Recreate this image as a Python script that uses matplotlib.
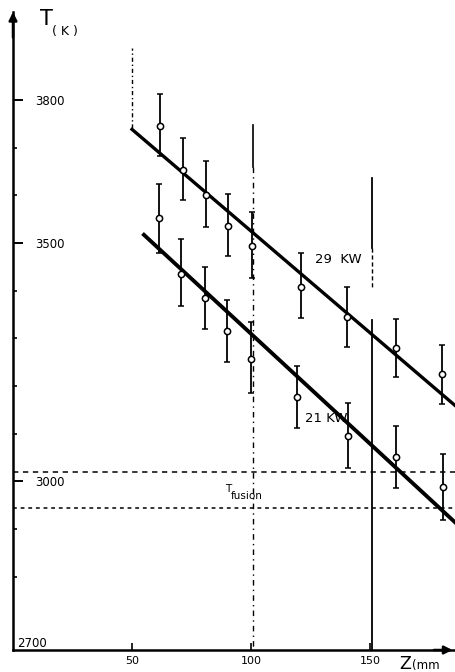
import matplotlib
matplotlib.use("Agg")
import matplotlib.pyplot as plt
import numpy as np

# ---- data ----
z_29 = [61.9, 71.4, 81.2, 90.5, 100.3, 120.9, 140.2, 160.8, 180.3]
T_29 = [3746, 3653, 3600, 3535, 3494, 3408, 3344, 3280, 3225]
T_29_hi = [3812, 3719, 3672, 3602, 3565, 3478, 3408, 3341, 3286]
T_29_lo = [3682, 3589, 3534, 3473, 3426, 3342, 3281, 3218, 3162]

z_21 = [61.2, 70.7, 80.5, 90.1, 99.9, 119.2, 140.6, 160.9, 180.5]
T_21 = [3553, 3434, 3385, 3316, 3256, 3178, 3095, 3052, 2989]
T_21_hi = [3624, 3508, 3449, 3380, 3334, 3241, 3165, 3116, 3058]
T_21_lo = [3478, 3368, 3320, 3251, 3185, 3113, 3028, 2986, 2919]

fit_z_29 = [50, 186]
fit_T_29 = [3738, 3158]
fit_z_21 = [55, 186]
fit_T_21 = [3517, 2913]

T_upper_ref = 3019
T_fusion = 2945

x_ticks = [50, 100, 150]
y_major = [3000, 3500, 3800]
y_minor = [2800, 2900, 3100, 3200, 3300, 3400, 3600, 3700]

# ---- figure ----
fig = plt.figure(figsize=(4.56, 6.72), dpi=100)
ax = fig.add_axes([13/456, 22/672, 443/456, 638/672])
ax.set_xlim(0, 186.1)
ax.set_ylim(2646.8, 3984)

for s in ("top", "right"):
    ax.spines[s].set_visible(False)
ax.spines["left"].set_linewidth(1.8)
ax.spines["bottom"].set_linewidth(1.8)

# axis arrows
ax.annotate("", xy=(0, 1.0), xytext=(0, 0.96), xycoords="axes fraction",
            arrowprops=dict(arrowstyle="-|>", color="black", lw=1.8,
                            mutation_scale=12, shrinkA=0, shrinkB=0))
ax.annotate("", xy=(0.992, 0), xytext=(0.95, 0), xycoords="axes fraction",
            arrowprops=dict(arrowstyle="-|>", color="black", lw=1.8,
                            mutation_scale=12, shrinkA=0, shrinkB=0))

# ticks
ax.set_yticks(y_major)
ax.set_yticklabels([str(v) for v in y_major])
ax.set_yticks(y_minor, minor=True)
ax.tick_params(axis="y", which="major", direction="in", length=7, width=1.4,
               pad=-16, labelsize=8.5)
ax.tick_params(axis="y", which="minor", direction="in", length=3, width=1.2)
for lab in ax.get_yticklabels():
    lab.set_horizontalalignment("left")
ax.set_xticks(x_ticks)
ax.set_xticklabels([str(v) for v in x_ticks])
ax.tick_params(axis="x", direction="in", length=5, width=1.2, pad=4, labelsize=8)
ax.text(1.7, 2661, "2700", fontsize=8.5, ha="left", va="center")

# vertical reference lines
ax.plot([50, 50], [3741, 3908], color="black", lw=1.0, ls=(0, (3, 2, 1, 2)))
ax.plot([101, 101], [3747, 3659], color="black", lw=1.2)
ax.plot([101, 101], [3659, 2647], color="black", lw=1.0, ls=(0, (4, 3, 1, 3)))
ax.plot([151, 151], [3636, 3489], color="black", lw=1.3)
ax.plot([151, 151], [3489, 3405], color="black", lw=1.0, ls=(0, (3, 2)))
ax.plot([151, 151], [3339, 2647], color="black", lw=1.3)

# horizontal reference lines
ax.axhline(T_upper_ref, color="black", lw=1.1, ls=(0, (3.5, 3)))
ax.axhline(T_fusion, color="black", lw=1.1, ls=(0, (2.5, 2.5)))

# data with error bars
for z, T, hi, lo in ((z_29, T_29, T_29_hi, T_29_lo), (z_21, T_21, T_21_hi, T_21_lo)):
    T = np.array(T); yerr = [T - np.array(lo), np.array(hi) - T]
    ax.errorbar(z, T, yerr=yerr, fmt="o", ms=4.5, mfc="white", mec="black",
                mew=1.1, ecolor="black", elinewidth=1.3, capsize=2, capthick=1.2,
                zorder=3)

# fitted lines
ax.plot(fit_z_29, fit_T_29, color="black", lw=2.4, zorder=2)
ax.plot(fit_z_21, fit_T_21, color="black", lw=2.8, zorder=2)

# labels
ax.text(127, 3466, "29  KW", fontsize=9.5, ha="left", va="center")
ax.text(122.5, 3132, "21 KW", fontsize=9.5, ha="left", va="center")
ax.text(89.0, 2978, "T", fontsize=7.5, ha="left", va="baseline")
ax.text(91.4, 2964, "fusion", fontsize=7.5, ha="left", va="baseline")

fig.text(40/456, 1 - 25/672, "T", fontsize=15, ha="left", va="baseline")
fig.text(52/456, 1 - 35/672, "( K )", fontsize=9, ha="left", va="baseline")
fig.text(399/456, 3/672, "Z", fontsize=12.5, ha="left", va="baseline")
fig.text(412/456, 3/672, "(mm", fontsize=8.5, ha="left", va="baseline")

fig.savefig("out.png", dpi=100, facecolor="white")
